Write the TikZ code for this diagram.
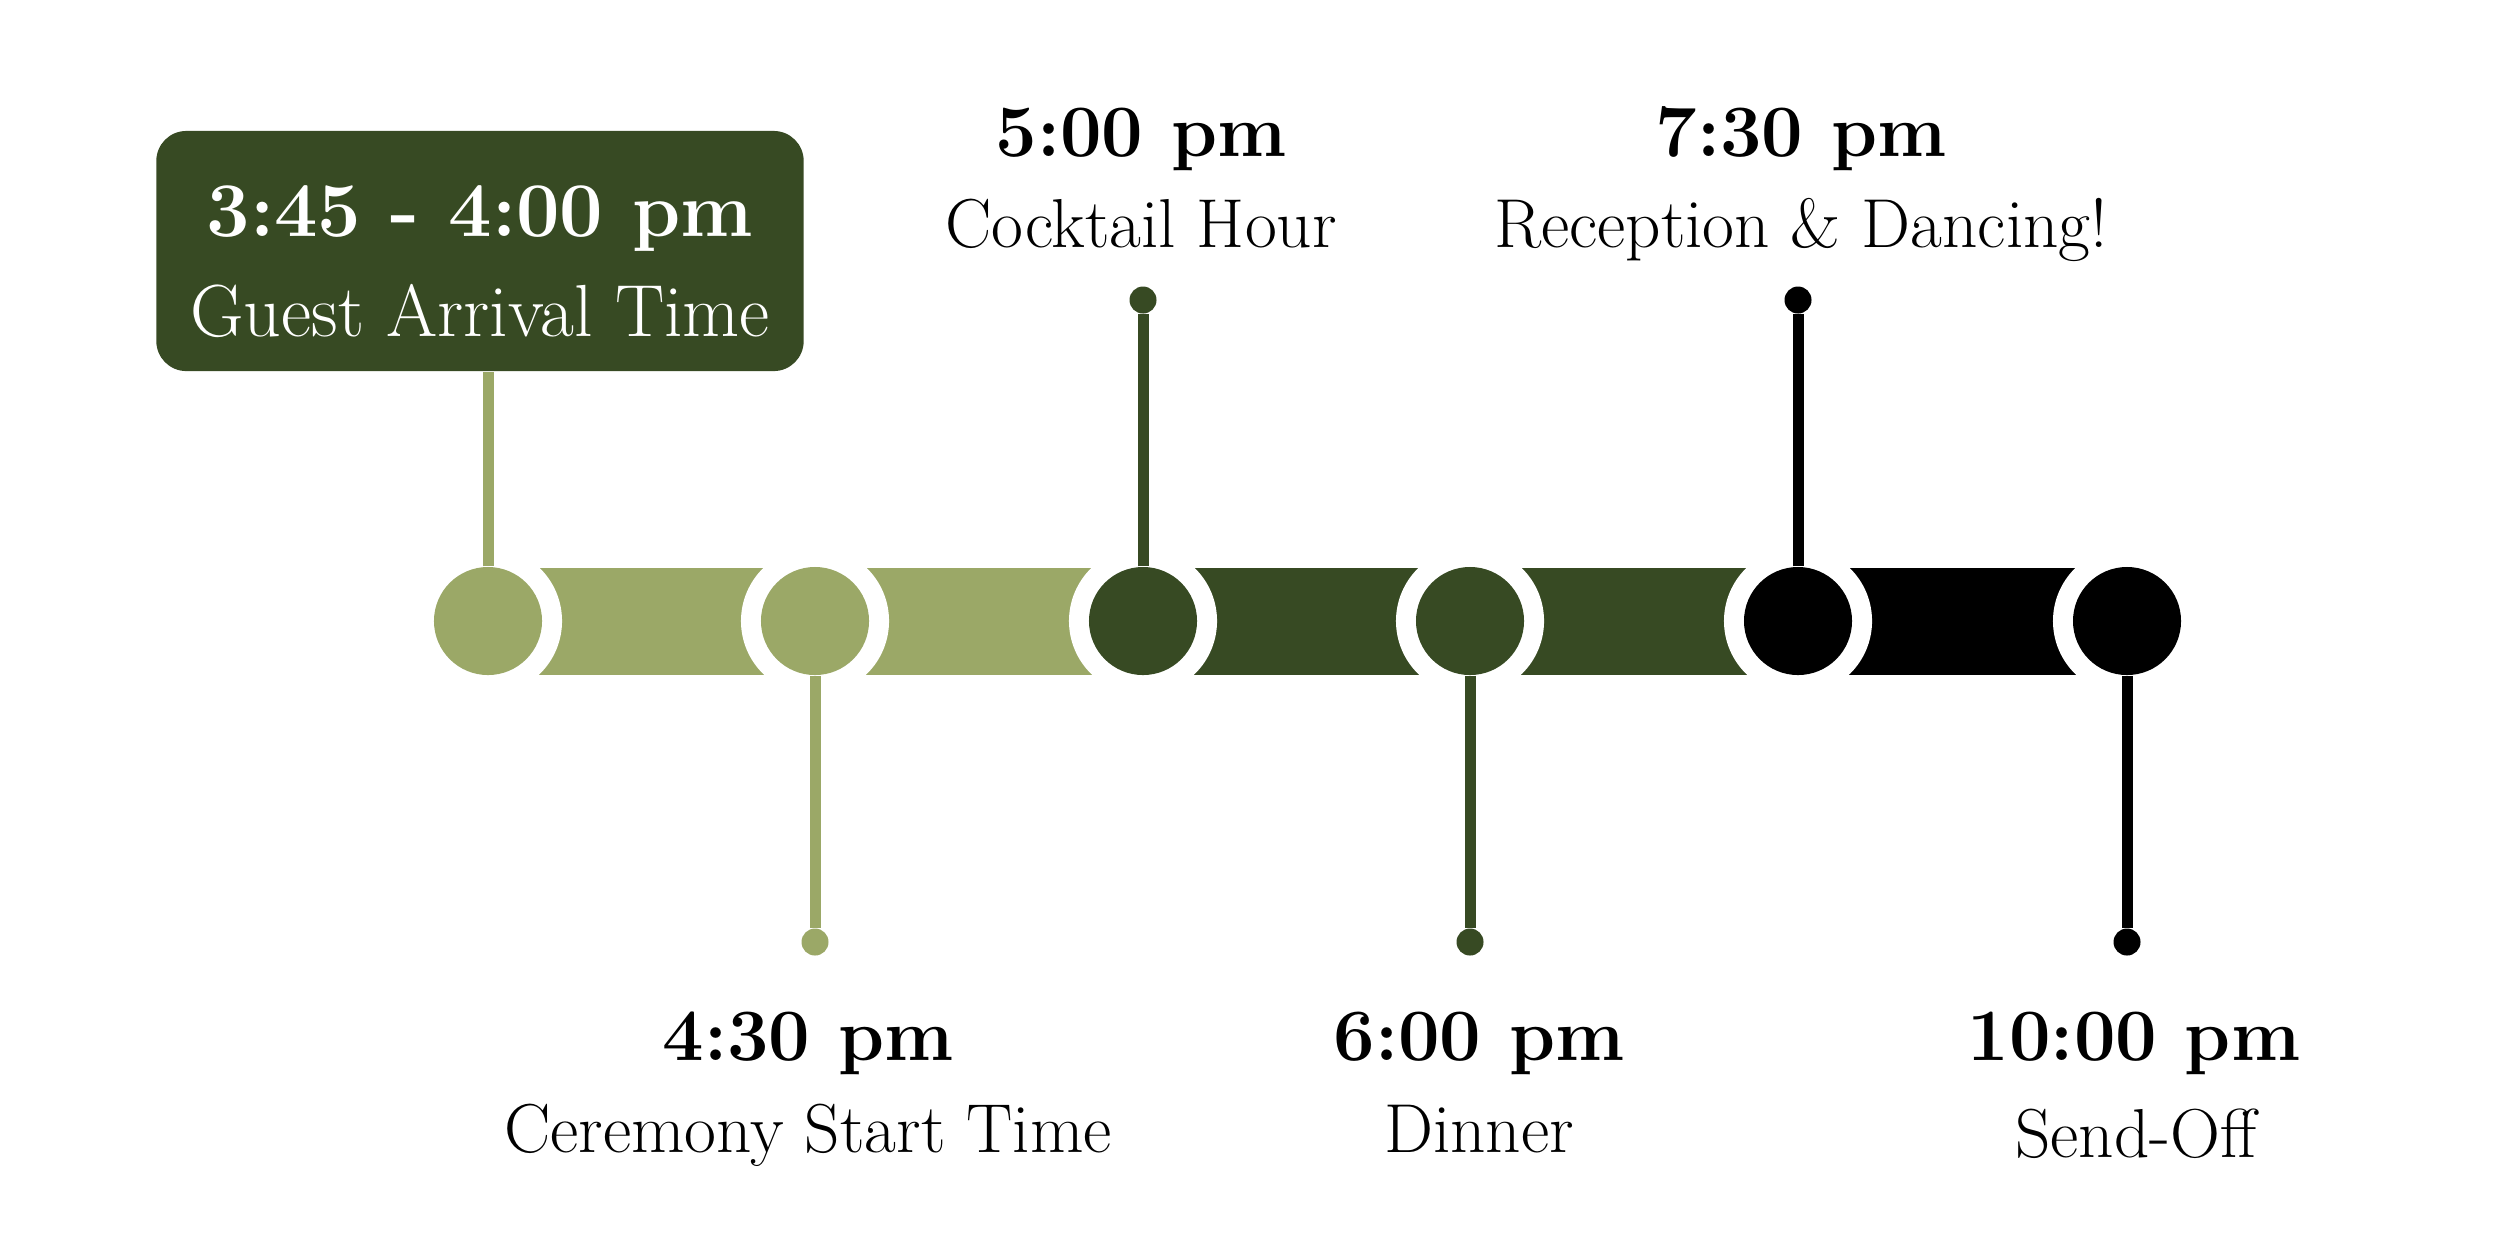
\documentclass[tikz,border=0pt]{standalone}
\usepackage{fontspec}
\usetikzlibrary{positioning}
\definecolor{sage}{HTML}{9BA867}
\definecolor{moss}{HTML}{374A23}
\tikzset{
  evdot/.style={circle,fill=#1,minimum size=1.08cm,inner sep=0pt},
  ring/.style={circle,fill=white,minimum size=1.48cm,inner sep=0pt},
  tipdot/.style={circle,fill=#1,minimum size=0.27cm,inner sep=0pt},
  stemline/.style={draw=#1,line width=0.11cm},
  hourlbl/.style={font=\fontsize{21}{25}\selectfont\bfseries,anchor=base},
  eventlbl/.style={font=\fontsize{19.7}{23}\selectfont,anchor=base},
}

\begin{document}
\begin{tikzpicture}[x=0.01cm,y=-0.01cm]
  \useasboundingbox (0,0) rectangle (2500,1250);
  % bars between the stops
  \foreach \a/\b/\c in {488/815/sage,815/1143/sage,1143/1470/moss,1470/1798/moss,1798/2127/black}{
    \fill[\c] (\a,568) rectangle (\b,675);
  }
  \foreach \x in {488,815,1143,1470,1798,2127}{ \node[ring] at (\x,621) {}; }
  \foreach \i/\x/\c in {1/488/sage,2/815/sage,3/1143/moss,4/1470/moss,5/1798/black,6/2127/black}{
    \node[evdot=\c] (c\i) at (\x,621) {};
  }
  % arrival box
  \node[fill=moss,rounded corners=0.3cm,minimum width=6.47cm,minimum height=2.4cm,text=white,align=center] (arr) at (480,251)
    {\rule{0pt}{0.72cm}{\fontsize{22}{26}\selectfont\bfseries 3:45 - 4:00 pm}\\[0.3cm]{\fontsize{21}{25}\selectfont Guest Arrival Time}};
  \draw[stemline=sage] (c1) -- (c1 |- arr.south);
  % pins
  \foreach \i/\x/\y/\c in {2/815/942/sage,3/1143/300/moss,4/1470/942/moss,5/1798/300/black,6/2127/942/black}{
    \node[tipdot=\c] (d\i) at (\x,\y) {};
    \draw[stemline=\c] (c\i) -- (d\i);
  }
  % labels
  \node[hourlbl] (h3) at (1141,156) {5:00 pm};
  \node[eventlbl] (e3) at (1141,247) {Cocktail Hour};
  \node[hourlbl] (h5) at (1801,156) {7:30 pm};
  \node[eventlbl] (e5) at (1801,247) {Reception \& Dancing!};
  \node[hourlbl] (h2) at (808,1060) {4:30 pm};
  \node[eventlbl] (e2) at (808,1152) {Ceremony Start Time};
  \node[hourlbl] (h4) at (1479,1060) {6:00 pm};
  \node[eventlbl] (e4) at (1479,1152) {Dinner};
  \node[hourlbl] (h6) at (2134,1060) {10:00 pm};
  \node[eventlbl] (e6) at (2136,1157) {Send-Off};
\end{tikzpicture}
\end{document}
